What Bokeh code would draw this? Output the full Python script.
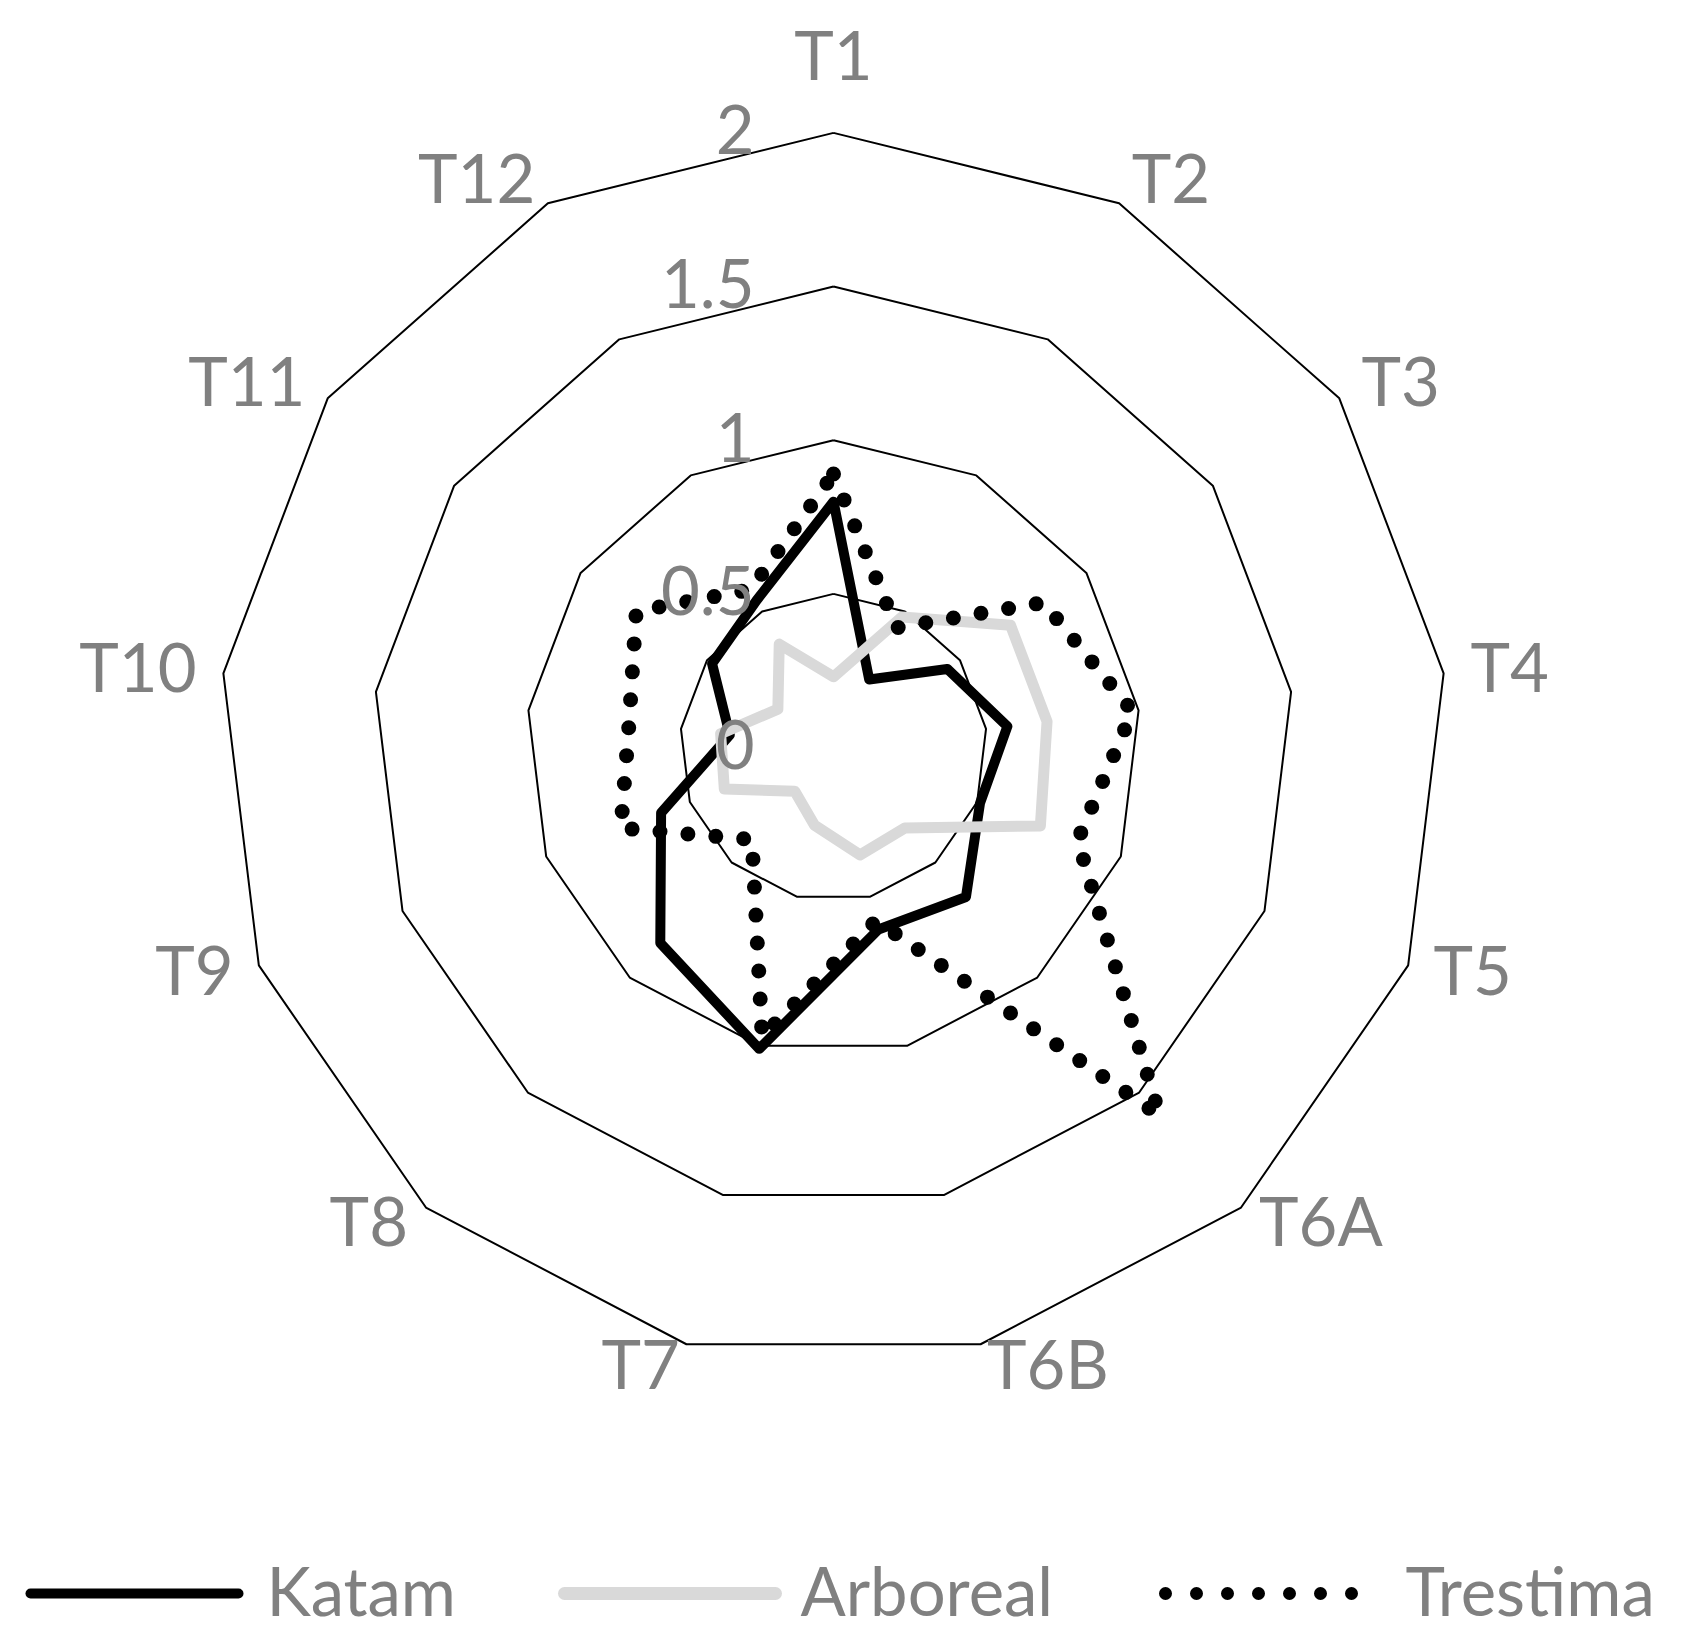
import numpy as np
from bokeh.plotting import figure
from bokeh.models import Range1d
from bokeh.core.properties import value
from bokeh.embed import file_html
from bokeh.resources import INLINE

# ---------------- data ----------------
categories = ["T1", "T2", "T3", "T4", "T5", "T6A", "T6B", "T7", "T8", "T9", "T10", "T11", "T12"]
katam    = [0.80, 0.25, 0.45, 0.57, 0.51, 0.65, 0.61, 1.01, 0.85, 0.60, 0.34, 0.48, 0.54]
arboreal = [0.23, 0.48, 0.70, 0.70, 0.72, 0.35, 0.36, 0.26, 0.19, 0.38, 0.37, 0.22, 0.38]
trestima = [0.89, 0.44, 0.83, 0.98, 0.85, 1.60, 0.58, 0.97, 0.40, 0.74, 0.67, 0.78, 0.58]
series_names = ["Katam", "Arboreal", "Trestima"]
tick_values = [0, 0.5, 1, 1.5, 2]
tick_labels = ["0", "0.5", "1", "1.5", "2"]

# ---------------- layout / style ----------------
W, H = 1680, 1640
S = 307.3            # pixels per data unit
CX, CY = 833, 747    # centre of the radar in figure pixels
FONT = value("Lato")
GREY = "#808080"
FS = "67px"
CAP = 24             # half cap height in px
TDY = 27             # baseline correction of the text renderer (px)

def fx(px):  # figure pixel x -> data x
    return (px - CX) / S

def fy(py):  # figure pixel y (down) -> data y
    return (CY - py) / S

p = figure(width=W, height=H, output_backend="svg", toolbar_location=None,
           x_axis_type=None, y_axis_type=None,
           x_range=Range1d(-CX / S, (W - CX) / S),
           y_range=Range1d(-(H - CY) / S, CY / S),
           min_border=0, min_border_left=0, min_border_right=0,
           min_border_top=0, min_border_bottom=0)
p.grid.visible = False
p.outline_line_color = None
p.background_fill_color = "white"
p.border_fill_color = "white"

n = len(categories)
ang = np.deg2rad(90.0 - np.arange(n) * 360.0 / n)
cosA, sinA = np.cos(ang), np.sin(ang)

def closed(vals):
    v = np.asarray(vals, dtype=float)
    xs = np.append(v * cosA, v[0] * cosA[0])
    ys = np.append(v * sinA, v[0] * sinA[0])
    return xs, ys

# rings
ring_xs, ring_ys = [], []
for t in tick_values[1:]:
    xs, ys = closed([t] * n)
    ring_xs.append(list(xs))
    ring_ys.append(list(ys))
p.multi_line(ring_xs, ring_ys, line_color="black", line_width=2)

# series
kx, ky = closed(katam)
p.line(kx, ky, line_color="black", line_width=10, line_join="round", line_cap="round")
ax_, ay_ = closed(arboreal)
p.line(ax_, ay_, line_color="#d9d9d9", line_width=11, line_join="round", line_cap="round")
tx, ty = closed(trestima)
p.line(tx, ty, line_color="black", line_width=15, line_dash=[0, 28], line_cap="round",
       line_join="round")

# radial value labels
rmax = tick_values[-1]
p.text(x=[fx(754)] * len(tick_values),
       y=[t + (TDY - CAP) / S for t in tick_values],
       text=tick_labels, text_align="right", text_baseline="alphabetic",
       text_font=FONT, text_font_size=FS, text_color=GREY)

# category labels
lx, ly, la = [], [], []
for i in range(n):
    vx, vy = rmax * cosA[i], rmax * sinA[i]
    if abs(cosA[i]) < 0.05:
        lx.append(vx)
        ly.append(vy + (52 + TDY) / S)
        la.append("center")
    else:
        lx.append(vx + 27 * cosA[i] / S)
        cap_c = vy + (24 * sinA[i] + 2) / S
        ly.append(cap_c + (TDY - CAP) / S)
        la.append("left" if cosA[i] > 0 else "right")
for i in range(n):
    p.text(x=[lx[i]], y=[ly[i]], text=[categories[i]], text_align=la[i],
           text_baseline="alphabetic", text_font=FONT, text_font_size=FS, text_color=GREY)

# legend (drawn manually in page pixels)
leg_y = fy(1593)
p.line([fx(30), fx(238)], [leg_y, leg_y], line_color="black", line_width=10, line_cap="round")
p.line([fx(564), fx(775)], [leg_y, leg_y], line_color="#d9d9d9", line_width=13, line_cap="round")
p.line([fx(1165), fx(1381)], [leg_y, leg_y], line_color="black", line_width=13,
       line_dash=[0, 31], line_cap="round")
p.text(x=[fx(266), fx(800), fx(1405)], y=[fy(1616 - TDY)] * 3, text=series_names,
       text_align="left", text_baseline="alphabetic", text_font=FONT, text_font_size=FS,
       text_color=GREY)

open("out.html", "w").write(file_html(p, INLINE))
